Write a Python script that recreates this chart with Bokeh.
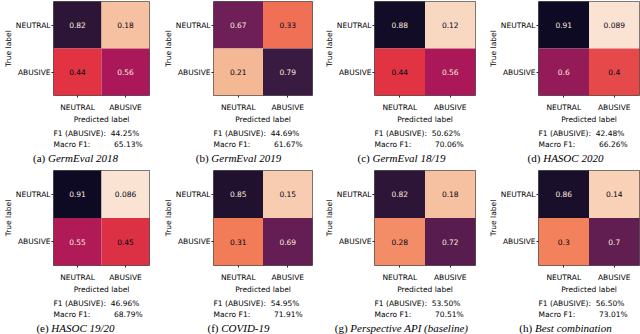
import numpy as np
from bokeh.plotting import figure
from bokeh.models import ColumnDataSource, FactorRange, Range1d, Title
from bokeh.transform import linear_cmap
from bokeh.core.properties import value
from bokeh.layouts import column, row
from bokeh.embed import file_html
from bokeh.resources import INLINE

# ---------------- data ----------------
classes = ["NEUTRAL", "ABUSIVE"]
letters = ["a", "b", "c", "d", "e", "f", "g", "h"]
datasets = ["GermEval 2018", "GermEval 2019", "GermEval 18/19", "HASOC 2020",
            "HASOC 19/20", "COVID-19", "Perspective API (baseline)", "Best combination"]
# rows: true label (NEUTRAL, ABUSIVE); columns: predicted label (NEUTRAL, ABUSIVE)
germeval_2018 = [[0.82, 0.18], [0.44, 0.56]]
germeval_2019 = [[0.67, 0.33], [0.21, 0.79]]
germeval_1819 = [[0.88, 0.12], [0.44, 0.56]]
hasoc_2020 = [[0.91, 0.089], [0.6, 0.4]]
hasoc_1920 = [[0.91, 0.086], [0.55, 0.45]]
covid_19 = [[0.85, 0.15], [0.31, 0.69]]
perspective_api = [[0.82, 0.18], [0.28, 0.72]]
best_combination = [[0.86, 0.14], [0.3, 0.7]]
matrices = [germeval_2018, germeval_2019, germeval_1819, hasoc_2020,
            hasoc_1920, covid_19, perspective_api, best_combination]
f1_abusive = [44.25, 44.69, 50.62, 42.48, 46.96, 54.95, 53.50, 56.50]
macro_f1 = [65.13, 61.67, 70.06, 66.26, 68.79, 71.91, 70.51, 73.01]

# ---------------- colormap (rocket-like, reversed: light = low, dark = high) ----------------
CMAP_POS = [0.0, 0.09, 0.15, 0.21, 0.30, 0.44, 0.56, 0.67, 0.79, 0.88, 1.0]
CMAP_HEX = ["#faebdd", "#fae3d2", "#f7ccb0", "#f5b793", "#f3805a", "#e13342",
            "#ab1859", "#6e1f57", "#3a1a41", "#130c26", "#03051a"]
rgb = np.array([[int(h[k:k + 2], 16) for k in (1, 3, 5)] for h in CMAP_HEX])
tt = np.linspace(0, 1, 256)
PALETTE = ["#%02x%02x%02x" % tuple(int(round(np.interp(t, CMAP_POS, rgb[:, k]))) for k in range(3))
           for t in tt]
TEXT_DARK = "#03051a"
TEXT_LIGHT = "#faebdd"

# Times metrics (per 1000 em) for caption width estimation
TIMES_ROMAN = {"(": 333, ")": 333, " ": 250, "a": 444, "b": 500, "c": 444, "d": 500,
               "e": 444, "f": 333, "g": 500, "h": 500}
TIMES_ITALIC = {" ": 250, "(": 333, ")": 333, "/": 278, "-": 333, "A": 611, "B": 611,
                "C": 667, "D": 722, "E": 611, "G": 722, "H": 722, "I": 333, "O": 722,
                "P": 611, "S": 500, "V": 611, "a": 500, "b": 500, "c": 444, "e": 444,
                "i": 278, "l": 278, "m": 722, "n": 500, "o": 500, "p": 500, "r": 389,
                "s": 389, "t": 278, "v": 444}


def twidth(s, table, size):
    return sum(table.get(ch, 500) for ch in s) * size / 1000.0


SANS = "DejaVu Sans"
SERIF = "Liberation Serif"
FS = "7.5px"
CAP_FS = 11.0
NBSP = "\u00a0"

PANEL_W = 160
LEFTS = [48, 51, 54, 58]
FRAME_W = 101
FRAME_H = 101
TOPS = [1, 2]
BOTTOMS = [46, 47]      # space below the heatmap frame: axis + two metric lines
TEXT_H = [20, 16]       # caption strips
CAP_Y = [9, 9.5]


def heat_panel(i):
    cm = matrices[i]
    L = LEFTS[i % 4]
    R = PANEL_W - L - FRAME_W
    top = TOPS[i // 4]
    bot = BOTTOMS[i // 4]
    p = figure(width=PANEL_W, height=top + FRAME_H + bot,
               x_range=FactorRange(*classes), y_range=FactorRange(*classes[::-1]),
               output_backend="svg", toolbar_location=None, tools="",
               min_border_left=L, min_border_right=R,
               min_border_top=top, min_border_bottom=bot)
    lo = min(min(r) for r in cm)
    hi = max(max(r) for r in cm)
    thresh = (lo + hi) / 2.0
    pred, true, vals, labels, tcol = [], [], [], [], []
    for ti, tl in enumerate(classes):
        for pi, pl in enumerate(classes):
            v = cm[ti][pi]
            pred.append(pl)
            true.append(tl)
            vals.append(v)
            labels.append("{:.2g}".format(v))
            tcol.append(TEXT_DARK if v < thresh else TEXT_LIGHT)
    src = ColumnDataSource(dict(pred=pred, true=true, value=vals, label=labels, tcolor=tcol))
    p.rect(x="pred", y="true", width=1, height=1, source=src,
           fill_color=linear_cmap("value", PALETTE, 0, 1), line_color=None)
    p.text(x="pred", y="true", text="label", text_color="tcolor", source=src,
           text_align="center", text_baseline="middle",
           text_font=value(SANS), text_font_size=FS)

    p.xaxis.axis_label = "Predicted label"
    p.yaxis.axis_label = "True label"
    for ax in (p.xaxis[0], p.yaxis[0]):
        ax.axis_line_color = None
        ax.major_tick_out = 2
        ax.major_tick_in = 0
        ax.major_tick_line_color = "#222222"
        ax.minor_tick_line_color = None
        ax.major_label_text_font = SANS
        ax.major_label_text_font_size = FS
        ax.major_label_text_color = "#000000"
        ax.axis_label_text_font = SANS
        ax.axis_label_text_font_size = FS
        ax.axis_label_text_font_style = "normal"
        ax.axis_label_text_color = "#000000"
        ax.axis_label_standoff = 0
    p.xaxis[0].major_label_standoff = 5
    p.yaxis[0].major_label_standoff = 1
    p.grid.visible = False
    p.outline_line_color = "#555555"
    p.outline_line_width = 1
    p.background_fill_color = "white"
    p.border_fill_color = "white"

    # metric lines under the axis label
    f1_txt = "F1 (ABUSIVE):" + NBSP * 2 + "%.2f%%" % f1_abusive[i]
    mf_txt = "Macro F1:" + NBSP * 10 + "%.2f%%" % macro_f1[i]
    for txt in (f1_txt, mf_txt):
        p.add_layout(Title(text=txt, align="left", offset=0, standoff=0,
                           text_font=SANS, text_font_size=FS, text_font_style="normal",
                           text_color="#000000"), "below")
    return p


def caption_row(r):
    """Sub-captions for one row of four panels (pixel-unit ranges)."""
    H = TEXT_H[r]
    W = PANEL_W * 4
    q = figure(width=W, height=H, x_range=Range1d(0, W), y_range=Range1d(H, 0),
               output_backend="svg", toolbar_location=None, tools="",
               x_axis_location=None, y_axis_location=None, min_border=0)
    q.grid.visible = False
    q.outline_line_color = None
    q.background_fill_color = "white"
    q.border_fill_color = "white"

    px, cy, pt, nt = [], [], [], []
    for c in range(4):
        i = r * 4 + c
        x0 = PANEL_W * c + LEFTS[c]
        prefix = "(%s) " % letters[i]
        name = datasets[i]
        wp = twidth(prefix, TIMES_ROMAN, CAP_FS)
        wn = twidth(name, TIMES_ITALIC, CAP_FS)
        bx = x0 + 27 - (wp + wn) / 2.0 + wp
        px.append(bx)
        cy.append(CAP_Y[r])
        pt.append(prefix)
        nt.append(name)

    q.text(x="x", y="y", text="text", source=ColumnDataSource(dict(x=px, y=cy, text=pt)),
           text_align="right", text_baseline="middle",
           text_font=value(SERIF), text_font_size="%.1fpx" % CAP_FS, text_color="#000000")
    q.text(x="x", y="y", text="text", source=ColumnDataSource(dict(x=px, y=cy, text=nt)),
           text_align="left", text_baseline="middle",
           text_font=value(SERIF), text_font_size="%.1fpx" % CAP_FS,
           text_font_style="italic", text_color="#000000")
    return q


heats = [heat_panel(i) for i in range(8)]
layout = column(row(*heats[:4], spacing=0), caption_row(0),
                row(*heats[4:], spacing=0), caption_row(1), spacing=0)
open("out.html", "w").write(file_html(layout, INLINE))
